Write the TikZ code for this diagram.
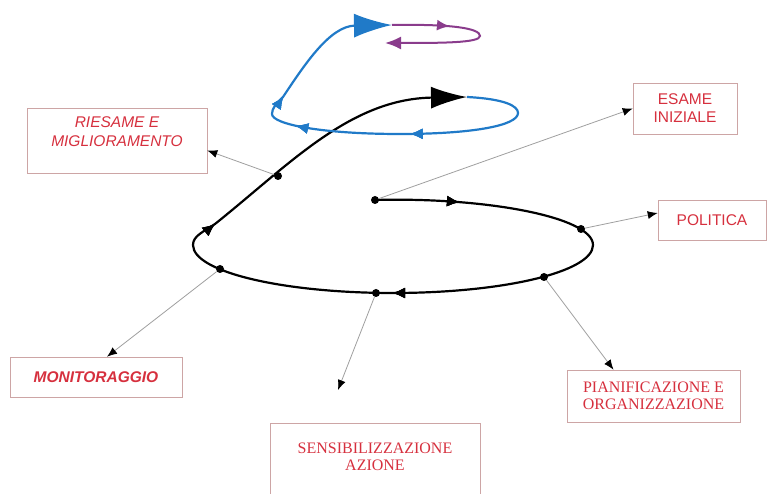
\documentclass[tikz,border=0pt]{standalone}
\usepackage{fontspec}
\setmainfont{Liberation Serif}
\newfontfamily\labelsans{Liberation Sans}
\usetikzlibrary{arrows.meta,decorations.markings}
\definecolor{labelred}{RGB}{214,48,62}
\definecolor{loopblue}{RGB}{32,122,200}
\definecolor{looppurple}{RGB}{138,60,140}
\definecolor{boxline}{RGB}{205,165,165}
\begin{document}
\begin{tikzpicture}[x=1pt,y=1pt,
        box/.style={draw=boxline, line width=0.6pt, rectangle, inner sep=0pt},
        sanstext/.style={text=labelred, align=center, font=\labelsans\fontsize{15.5}{18}\selectfont},
        sansit/.style={sanstext, font=\labelsans\itshape\fontsize{15.5}{19}\selectfont},
        sansbi/.style={sanstext, font=\labelsans\bfseries\itshape\fontsize{15.5}{18}\selectfont},
        seriftext/.style={text=labelred, align=center, font=\fontsize{16}{17.5}\selectfont},
        pointer/.style={draw=gray!75, line width=0.8pt, -{Latex[length=10pt,width=8pt,black]}},
        spot/.style={circle, fill=black, inner sep=0pt, minimum size=8pt},
        smalltip/.style={decoration={markings, mark=at position #1 with {\arrow{Latex[length=13pt,width=11pt]}}}, postaction={decorate}}]
        \useasboundingbox (0,0) rectangle (768,494);
        % spiral
        \draw[line width=2.2pt, -{Latex[length=36pt,width=22pt]},
            smalltip=85pt, smalltip=445pt, smalltip=690pt]
            (375,294) .. controls (485,297) and (593,277) .. (593,249)
            .. controls (593,222) and (503,201) .. (393,201)
            .. controls (283,201) and (193,222) .. (193,249)
            .. controls (193,258) and (203,262) .. (215,270)
            .. controls (290,330) and (350,395) .. (467,397);
        \draw[loopblue, line width=2.2pt, -{Latex[length=38pt,width=24pt]},
            smalltip=170pt, smalltip=285pt, smalltip=334pt]
            (467,397) .. controls (505,395) and (518,388) .. (518,381)
            .. controls (518,368) and (470,360) .. (400,360)
            .. controls (320,360) and (272,370) .. (272,380)
            .. controls (272,386) and (276,390) .. (283,397)
            .. controls (305,430) and (330,468) .. (392,469);
        \draw[looppurple, line width=2pt, -{Latex[length=16pt,width=13pt]}, smalltip=58pt]
            (392,469) .. controls (450,470) and (480,466) .. (480,458)
            .. controls (480,451) and (440,451) .. (385,451);
        % boxes
        \node[box, minimum width=180pt, minimum height=65pt] (riesame) at (117,353.5) {};
        \node[sansit] (riesametext) at (117,362) {RIESAME E\\MIGLIORAMENTO};
        \node[box, minimum width=104pt, minimum height=51pt, sanstext] (esame) at (685,385.5) {ESAME\\INIZIALE};
        \node[box, minimum width=108pt, minimum height=40pt, sanstext] (politica) at (712,274) {POLITICA};
        \node[box, minimum width=172pt, minimum height=40pt, sansbi] (monitor) at (96,117) {MONITORAGGIO};
        \node[box, minimum width=173pt, minimum height=52pt, seriftext] (pian) at (653.5,98) {PIANIFICAZIONE E\\ORGANIZZAZIONE};
        \node[box, minimum width=210pt, minimum height=87pt] (sens) at (375,27.5) {};
        \node[seriftext] (senstext) at (375,37) {SENSIBILIZZAZIONE\\AZIONE};
        % dots on the spiral
        \node[spot] (dotS) at (375,294) {};
        \node[spot] (dotR) at (278,318) {};
        \node[spot] (dotP) at (581,265) {};
        \node[spot] (dotO) at (544,217) {};
        \node[spot] (dotA) at (376,201) {};
        \node[spot] (dotM) at (220,225) {};
        \coordinate (sensend) at (338,104);
        % pointers
        \draw[pointer] (dotS) -- (esame.west);
        \draw[pointer] (dotR) -- ([yshift=-10pt]riesame.east);
        \draw[pointer] (dotP) -- ([yshift=7pt]politica.west);
        \draw[pointer] (dotO) -- ([xshift=-40pt]pian.north);
        \draw[pointer] (dotA) -- (sensend);
        \draw[pointer] (dotM) -- ([xshift=11pt]monitor.north);
\end{tikzpicture}
\end{document}
